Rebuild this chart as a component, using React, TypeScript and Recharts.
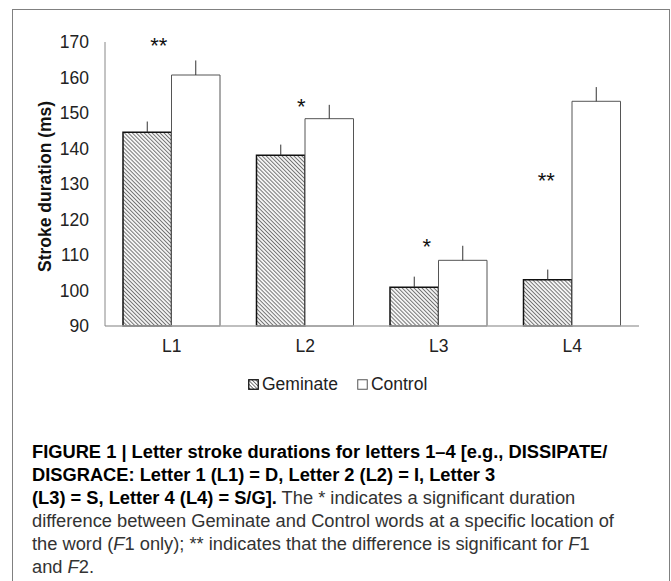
import { Bar, BarChart, ErrorBar, Legend, ReferenceDot, XAxis, YAxis } from "recharts";

const LETTERS = ["L1", "L2", "L3", "L4"];
const GEMINATE = [144.6, 138.1, 100.9, 103.0];
const GEMINATE_ERR = [3.0, 3.0, 3.0, 2.9];
const CONTROL = [160.7, 148.4, 108.5, 153.3];
const CONTROL_ERR = [4.1, 3.9, 4.1, 4.0];
const Y_TICKS = [90, 100, 110, 120, 130, 140, 150, 160, 170];
const SERIES_ORDER = ["geminate", "control"];

// significance stars, drawn above each letter
const SIG_MARKS = ["**", "*", "*", "**"];
const SIG_LEVELS = [170, 152.8, 113.4, 132];
const SIG_NUDGE = [-13, -4, -12, -26];

const FONT = '"Liberation Sans", Arial, sans-serif';

const rows = LETTERS.map((letter, i) => ({
  letter,
  geminate: GEMINATE[i],
  gemErr: [0, GEMINATE_ERR[i]],
  control: CONTROL[i],
  ctrlErr: [0, CONTROL_ERR[i]],
}));

function LegendIcon({ hatched }: { hatched: boolean }) {
  return (
    <svg width={11} height={11} style={{ marginRight: 3 }}>
      <defs>
        <pattern id="hatch-key" width={2.6} height={2.6} patternUnits="userSpaceOnUse" patternTransform="rotate(45)">
          <rect width={2.6} height={2.6} fill="#fff" />
          <line x1={0} y1={0} x2={2.6} y2={0} stroke="#333" strokeWidth={1.3} />
        </pattern>
      </defs>
      <rect
        x={0.75}
        y={0.75}
        width={9.5}
        height={9.5}
        fill={hatched ? "url(#hatch-key)" : "#fff"}
        stroke={hatched ? "#111" : "#555"}
        strokeWidth={hatched ? 1.3 : 1}
      />
    </svg>
  );
}

function LegendRow(props: any) {
  const payload = [...(props.payload ?? [])].sort(
    (a: any, b: any) => SERIES_ORDER.indexOf(a.dataKey) - SERIES_ORDER.indexOf(b.dataKey)
  );
  return (
    <div
      style={{
        height: 52,
        boxSizing: "border-box",
        paddingTop: 4,
        paddingLeft: 248,
        display: "flex",
        alignItems: "center",
        fontFamily: FONT,
        fontSize: 17.5,
        color: "#222",
      }}
    >
      {payload.map((entry: any) => (
        <span key={entry.value} style={{ display: "flex", alignItems: "center", marginRight: 19 }}>
          <LegendIcon hatched={entry.dataKey === "geminate"} />
          {entry.value}
        </span>
      ))}
    </div>
  );
}

export default function App() {
  return (
    <div style={{ position: "relative", width: 671, height: 581, overflow: "hidden", background: "#fff" }}>
      <style>{`body{margin:0;overflow:hidden}`}</style>
      <div
        style={{
          position: "absolute",
          left: 12,
          top: 9,
          width: 658,
          height: 620,
          boxSizing: "border-box",
          border: "1.5px solid #808080",
        }}
      />
      <div style={{ position: "absolute", left: 0, top: 0 }}>
        <BarChart
          width={671}
          height={408}
          data={rows}
          margin={{ top: 42, right: 32, bottom: 0, left: 0 }}
          barGap={0}
          barSize={48.5}
        >
          <defs>
            <pattern id="hatch" width={2.8} height={2.8} patternUnits="userSpaceOnUse" patternTransform="rotate(45)">
              <rect width={2.8} height={2.8} fill="#f4f4f4" />
              <line x1={0} y1={0} x2={2.8} y2={0} stroke="#3a3a3a" strokeWidth={1.3} />
            </pattern>
          </defs>
          <XAxis
            dataKey="letter"
            height={30}
            tickLine={false}
            tickSize={0}
            tickMargin={14}
            axisLine={{ stroke: "#aaa", strokeWidth: 1.5 }}
            tick={{ fill: "#222", fontSize: 17.5, fontFamily: FONT }}
          />
          <YAxis
            width={105}
            domain={[90, 170]}
            ticks={Y_TICKS}
            interval={0}
            tickLine={false}
            tickSize={0}
            tickMargin={16}
            axisLine={{ stroke: "#888", strokeWidth: 1 }}
            tick={{ fill: "#222", fontSize: 17.5, fontFamily: FONT }}
            label={{
              value: "Stroke duration (ms)",
              angle: -90,
              position: "insideLeft",
              dx: 40,
              dy: 88,
              style: { fontFamily: FONT, fontSize: 17.5, fontWeight: 700, fill: "#111" },
            }}
          />
          <Legend verticalAlign="bottom" content={<LegendRow />} />
          <Bar
            dataKey="geminate"
            name="Geminate"
            fill="url(#hatch)"
            stroke="#111"
            strokeWidth={1.5}
            isAnimationActive={false}
          >
            <ErrorBar dataKey="gemErr" width={0} stroke="#333" strokeWidth={1} direction="y" />
          </Bar>
          <Bar
            dataKey="control"
            name="Control"
            fill="#fff"
            stroke="#555"
            strokeWidth={1}
            isAnimationActive={false}
          >
            <ErrorBar dataKey="ctrlErr" width={0} stroke="#333" strokeWidth={1} direction="y" />
          </Bar>
          {LETTERS.map((letter, i) => (
            <ReferenceDot
              key={letter}
              x={letter}
              y={SIG_LEVELS[i]}
              r={0}
              fill="none"
              stroke="none"
              label={{
                value: SIG_MARKS[i],
                position: "center",
                dx: SIG_NUDGE[i],
                dy: 3,
                style: { fontFamily: FONT, fontSize: 22, fill: "#111" },
              }}
            />
          ))}
        </BarChart>
      </div>
      <div
        style={{
          position: "absolute",
          left: 32,
          top: 440,
          fontFamily: FONT,
          fontSize: 18.3,
          lineHeight: "23px",
          color: "#333",
          whiteSpace: "nowrap",
        }}
      >
        <b style={{ color: "#000" }}>FIGURE 1 | Letter stroke durations for letters 1–4 [e.g., DISSIPATE/</b>
        <br />
        <b style={{ color: "#000" }}>DISGRACE: Letter 1 (L1) = D, Letter 2 (L2) = I, Letter 3</b>
        <br />
        <b style={{ color: "#000" }}>(L3) = S, Letter 4 (L4) = S/G].</b> The * indicates a significant duration
        <br />
        difference between Geminate and Control words at a specific location of
        <br />
        the word (<i>F</i>1 only); ** indicates that the difference is significant for <i>F</i>1
        <br />
        and <i>F</i>2.
      </div>
    </div>
  );
}
